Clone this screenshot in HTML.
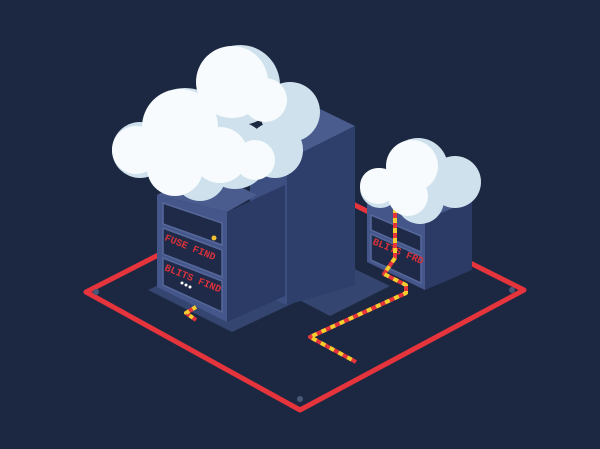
<!DOCTYPE html>
<html><head><meta charset="utf-8"><style>
html,body{margin:0;padding:0;background:#1c2841;}
svg{display:block}
</style></head><body>
<svg width="600" height="449" viewBox="0 0 600 449" xmlns="http://www.w3.org/2000/svg">
<rect width="600" height="449" fill="#1c2841"/>
<!-- platform -->
<polygon points="86,292 305,180 524,290 300,410" fill="#1c2841" stroke="#e5343c" stroke-width="5" stroke-linejoin="round"/>
<circle cx="96" cy="292" r="3" fill="#4a5878"/><circle cx="300" cy="399" r="3" fill="#4a5878"/><circle cx="512" cy="290" r="3" fill="#4a5878"/>
<!-- bases -->
<polygon points="148,290 232,332 300,300 216,258" fill="#34456f"/>
<polygon points="280,290 330,316 390,286 340,262" fill="#34456f"/>
<!-- tall tower -->
<polygon points="250,140 318,108 355,126 287,160" fill="#4a5c8e"/>
<polygon points="287,160 355,126 355,285 287,305" fill="#2f3f6c"/>
<polygon points="250,140 287,160 287,305 250,290" fill="#3d4e80"/>
<!-- front server -->
<polygon points="157,195 205,170 257,195 227,212" fill="#4a5c8e"/>
<polygon points="227,212 285,185 285,296 227,322" fill="#2c3b66"/>
<polygon points="157,195 227,212 227,322 157,287" fill="#45568a"/>
<g fill="#1e2a48" stroke="#56689a" stroke-width="1.5">
<polygon points="163,203 222,223 222,245 163,224"/>
<polygon points="163,228 222,250 222,277 163,254"/>
<polygon points="163,258 222,281 222,312 163,285"/>
</g>
<g font-family="Liberation Mono, monospace" font-weight="bold" font-size="10" fill="#d8323a">
<text x="164" y="240" transform="rotate(22 164 240)">FUSE FIND</text>
<text x="164" y="270" transform="rotate(22 164 270)">BLITS FIND</text>
</g>
<circle cx="214" cy="238" r="2.5" fill="#f0c030"/>
<circle cx="182" cy="283" r="1.5" fill="#fff"/><circle cx="186" cy="285" r="1.5" fill="#fff"/><circle cx="190" cy="287" r="1.5" fill="#fff"/>
<!-- right server -->
<polygon points="367,195 425,220 472,200 414,178" fill="#4a5c8e"/>
<polygon points="425,220 472,200 472,270 425,290" fill="#2c3b66"/>
<polygon points="367,195 425,220 425,290 367,262" fill="#45568a"/>
<g fill="#1e2a48" stroke="#56689a" stroke-width="1.5">
<polygon points="371,215 421,236 421,252 371,230"/>
<polygon points="371,234 421,256 421,283 371,260"/>
</g>
<text x="372" y="244" transform="rotate(22 372 244)" font-family="Liberation Mono, monospace" font-weight="bold" font-size="10" fill="#d8323a">BLITS FRD</text>
<!-- cables -->
<g fill="none" stroke-width="4" stroke-linejoin="round">
<polyline points="395,208 395,258 384,274 406,285 406,293 310,337 356,362" stroke="#e5343c"/>
<polyline points="395,208 395,258 384,274 406,285 406,293 310,337 356,362" stroke="#f2cf2e" stroke-dasharray="5,5"/>
<polyline points="196,307 186,313 196,320" stroke="#e5343c"/>
<polyline points="196,307 186,313 196,320" stroke="#f2cf2e" stroke-dasharray="4,4"/>
</g>
<!-- big cloud -->
<g fill="#cfe1ec">
<circle cx="240" cy="85" r="40"/><circle cx="290" cy="112" r="30"/><circle cx="185" cy="130" r="42"/>
<circle cx="140" cy="150" r="28"/><circle cx="235" cy="155" r="34"/><circle cx="275" cy="150" r="28"/>
<circle cx="200" cy="175" r="26"/>
</g>
<g fill="#f7fbfd">
<circle cx="232" cy="82" r="36"/><circle cx="180" cy="127" r="38"/><circle cx="136" cy="150" r="24"/>
<circle cx="220" cy="155" r="28"/><circle cx="175" cy="168" r="28"/><circle cx="255" cy="160" r="20"/>
<circle cx="265" cy="100" r="22"/>
</g>
<!-- small cloud -->
<g fill="#cfe1ec">
<circle cx="418" cy="168" r="30"/><circle cx="455" cy="182" r="26"/><circle cx="380" cy="188" r="20"/><circle cx="420" cy="200" r="24"/>
</g>
<g fill="#f7fbfd">
<circle cx="412" cy="166" r="26"/><circle cx="378" cy="186" r="18"/><circle cx="408" cy="196" r="20"/>
</g>
</svg>
</body></html>
